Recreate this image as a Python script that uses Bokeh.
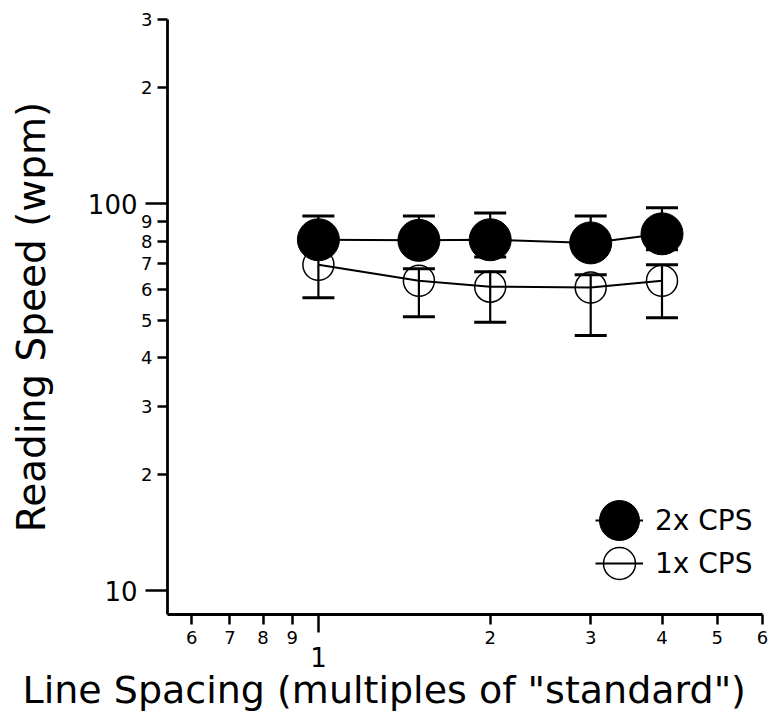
from bokeh.plotting import figure
from bokeh.models import FixedTicker, Legend, LegendItem, LogAxis, Title
from bokeh.embed import file_html
from bokeh.resources import INLINE

# ---- data ----
spacing = [1.0, 1.5, 2.0, 3.0, 4.0]
cps2_mean = [80.8, 80.5, 80.8, 79.3, 83.7]
cps2_hi = [93.1, 93.1, 94.8, 93.1, 97.7]
cps2_lo = [75.2, 75.0, 72.9, 73.9, 76.1]
cps1_mean = [69.6, 63.3, 61.1, 60.8, 63.3]
cps1_hi = [77.5, 68.0, 66.8, 65.6, 69.6]
cps1_lo = [57.2, 51.1, 49.4, 45.7, 50.8]

x_small_ticks = [0.6, 0.7, 0.8, 0.9, 2, 3, 4, 5, 6]
x_small_labels = ["6", "7", "8", "9", "2", "3", "4", "5", "6"]
x_big_ticks = [1]
x_big_labels = ["1"]
y_small_ticks = [20, 30, 40, 50, 60, 70, 80, 90, 200, 300]
y_small_labels = ["2", "3", "4", "5", "6", "7", "8", "9", "2", "3"]
y_big_ticks = [10, 100]
y_big_labels = ["10", "100"]
x_title = 'Line Spacing (multiples of "standard")'
y_title = "Reading Speed (wpm)"
series_names = ["2x CPS", "1x CPS"]

FONT = "DejaVu Sans"

p = figure(width=770, height=722, x_axis_type="log", y_axis_type="log",
           x_range=(0.544, 6.0), y_range=(8.67, 300),
           output_backend="svg", toolbar_location=None,
           min_border_left=167, min_border_right=8, min_border_top=19, min_border_bottom=108)
p.outline_line_color = None
p.xgrid.visible = False
p.ygrid.visible = False

# inner axes: small labels, long ticks at decades
xa = p.xaxis[0]
xa.ticker = FixedTicker(ticks=x_small_ticks, minor_ticks=x_big_ticks)
xa.major_label_overrides = dict(zip(x_small_ticks, x_small_labels))
ya = p.yaxis[0]
ya.ticker = FixedTicker(ticks=y_small_ticks, minor_ticks=y_big_ticks)
ya.major_label_overrides = dict(zip(y_small_ticks, y_small_labels))
for ax in (xa, ya):
    ax.axis_line_width = 2.8
    ax.axis_line_color = "black"
    ax.major_tick_line_width = 2.5
    ax.major_tick_in = 0
    ax.major_tick_out = 10
    ax.minor_tick_line_width = 2.5
    ax.minor_tick_in = 0
    ax.major_label_text_font = FONT
    ax.major_label_text_font_size = "18px"
    ax.major_label_text_color = "black"
xa.minor_tick_out = 18
ya.minor_tick_out = 22
xa.major_label_standoff = -2
ya.major_label_standoff = -7

# outer axes: big decade labels
xb = LogAxis(ticker=FixedTicker(ticks=x_big_ticks, minor_ticks=[]),
             major_label_overrides=dict(zip(x_big_ticks, x_big_labels)))
yb = LogAxis(ticker=FixedTicker(ticks=y_big_ticks, minor_ticks=[]),
             major_label_overrides=dict(zip(y_big_ticks, y_big_labels)))
for ax in (xb, yb):
    ax.axis_line_color = None
    ax.major_tick_line_color = None
    ax.minor_tick_line_color = None
    ax.major_tick_out = 0
    ax.major_tick_in = 0
    ax.major_label_text_font = FONT
    ax.major_label_text_font_size = "26px"
    ax.major_label_text_color = "black"
    ax.axis_label_text_font = FONT
    ax.axis_label_text_font_size = "39px"
    ax.axis_label_text_font_style = "normal"
    ax.axis_label_text_color = "black"
xb.major_label_standoff = 0
yb.major_label_standoff = 1
yb.axis_label = y_title
yb.axis_label_standoff = 31
p.add_layout(xb, "below")
p.add_layout(yb, "left")

p.add_layout(Title(text=x_title, align="left", offset=-145, standoff=-8,
                   text_font=FONT, text_font_size="38px", text_font_style="normal",
                   text_color="black"), "below")

# 1x CPS (open)
l1 = p.line(spacing, cps1_mean, line_color="black", line_width=2)
p.segment(spacing, cps1_lo, spacing, cps1_hi, line_color="black", line_width=2.2)
p.scatter(spacing, cps1_hi, marker="dash", size=32, line_color="black", line_width=3)
p.scatter(spacing, cps1_lo, marker="dash", size=32, line_color="black", line_width=3)
c1 = p.scatter(spacing, cps1_mean, marker="circle", size=31, line_color="black",
               line_width=1.5, fill_alpha=0)

# 2x CPS (filled)
l2 = p.line(spacing, cps2_mean, line_color="black", line_width=2)
p.segment(spacing, cps2_lo, spacing, cps2_hi, line_color="black", line_width=2.2)
p.scatter(spacing, cps2_hi, marker="dash", size=32, line_color="black", line_width=3)
p.scatter(spacing, cps2_lo, marker="dash", size=32, line_color="black", line_width=3)
c2 = p.scatter(spacing, cps2_mean, marker="circle", size=42, line_color="black",
               fill_color="black")

common = dict(padding=0, margin=0, border_line_color=None, background_fill_alpha=0,
              label_text_font=FONT, label_text_color="black")
p.add_layout(Legend(items=[LegendItem(label=series_names[0], renderers=[l2]),
                           LegendItem(label=series_names[1], renderers=[l1])],
                    location=(428, 31), glyph_width=48, glyph_height=40,
                    label_standoff=12, spacing=3, label_text_font_size="28px", **common))
DF = 100
DO = 80
p.add_layout(Legend(items=[LegendItem(label=" ", renderers=[c2])],
                    location=(452 - DF / 2, 94 - DF / 2), glyph_width=DF, glyph_height=DF,
                    label_standoff=0, label_text_font_size="10px", **common))
p.add_layout(Legend(items=[LegendItem(label=" ", renderers=[c1])],
                    location=(452 - DO / 2, 51 - DO / 2), glyph_width=DO, glyph_height=DO,
                    label_standoff=0, label_text_font_size="10px", **common))

open("out.html", "w").write(file_html(p, INLINE))
